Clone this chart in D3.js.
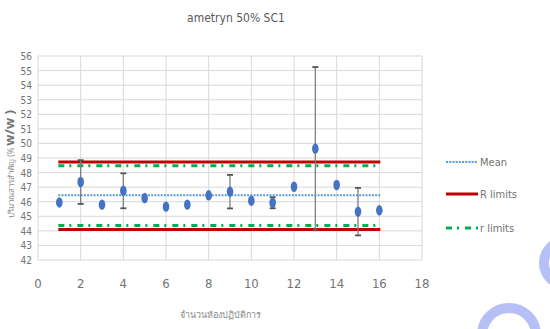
<!DOCTYPE html>
<html>
<head>
<meta charset="utf-8">
<script src="https://cdn.jsdelivr.net/npm/d3@7"></script>
<style>
  body { margin: 0; background: #fff; }
  text { font-family: "Liberation Sans Narrow", "DejaVu Sans Condensed", sans-serif; font-stretch: condensed; fill: #737373; }
</style>
</head>
<body>
<div id="chart"></div>
<script>
// Chart size and plot area
const W = 550, H = 329;
const margin = { top: 56, right: 128, bottom: 69, left: 38 };

// Data
const labs = [1, 2, 3, 4, 5, 6, 7, 8, 9, 10, 11, 12, 13, 14, 15, 16];
const values = [45.95, 47.35, 45.8, 46.75, 46.25, 45.66, 45.8, 46.44, 46.69, 46.07, 45.93, 47.03, 49.64, 47.15, 45.32, 45.41];
const errors = [0, 1.5, 0, 1.2, 0, 0, 0, 0, 1.15, 0, 0.38, 0, 5.6, 0, 1.63, 0];
const meanValue = 46.45;
const R_limits = [44.1, 48.72];
const r_limits = [44.36, 48.47];
const xTicks = [0, 2, 4, 6, 8, 10, 12, 14, 16, 18];
const yTicks = [42, 43, 44, 45, 46, 47, 48, 49, 50, 51, 52, 53, 54, 55, 56];

const svg = d3.select("#chart").append("svg")
    .attr("width", W)
    .attr("height", H);

const x = d3.scaleLinear().domain([0, 18]).range([margin.left, W - margin.right]);
const y = d3.scaleLinear().domain([42, 56]).range([H - margin.bottom, margin.top]);

// Grid lines
svg.append("g").selectAll("line.h")
    .data(yTicks)
    .join("line")
    .attr("x1", x(0)).attr("x2", x(18))
    .attr("y1", d => y(d)).attr("y2", d => y(d))
    .attr("stroke", "#d9d9d9").attr("stroke-width", 1);

svg.append("g").selectAll("line.v")
    .data(xTicks)
    .join("line")
    .attr("x1", d => x(d)).attr("x2", d => x(d))
    .attr("y1", y(42)).attr("y2", y(56))
    .attr("stroke", "#d9d9d9").attr("stroke-width", 1);

// Tick labels
svg.append("g").selectAll("text")
    .data(yTicks)
    .join("text")
    .attr("x", x(0) - 6)
    .attr("y", d => y(d) + 4)
    .attr("text-anchor", "end")
    .style("font-size", "10px")
    .text(d => d);

svg.append("g").selectAll("text")
    .data(xTicks)
    .join("text")
    .attr("x", d => x(d))
    .attr("y", 288)
    .attr("text-anchor", "middle")
    .style("font-size", "13px")
    .text(d => d);

// Title
svg.append("text")
    .attr("x", 236).attr("y", 22)
    .attr("text-anchor", "middle")
    .style("font-size", "12px")
    .style("fill", "#595959")
    .text("ametryn 50% SC1");

// Axis titles
svg.append("text")
    .attr("x", 220).attr("y", 318)
    .attr("text-anchor", "middle")
    .style("font-size", "9px")
    .style("font-family", "Noto Sans, sans-serif")
    .style("fill", "#8a8a8a")
    .text("จำนวนห้องปฏิบัติการ");

const yTitle = svg.append("text")
    .attr("transform", "translate(14,164) rotate(-90)")
    .attr("text-anchor", "middle")
    .style("font-family", "Noto Sans, sans-serif");
yTitle.append("tspan").style("font-size", "8px").style("fill", "#8a8a8a").text("ปริมาณสารสำคัญ (% ");
yTitle.append("tspan").style("font-size", "13px").style("font-weight", "bold").text("w/w )");

// Limit lines span the laboratories
const x0 = x(labs[0]) - 1, x1 = x(labs[labs.length - 1]) + 1;

svg.append("line")
    .attr("x1", x0).attr("x2", x1)
    .attr("y1", y(meanValue)).attr("y2", y(meanValue))
    .attr("stroke", "#5b9bd5").attr("stroke-width", 2)
    .attr("stroke-dasharray", "2,1.2");

svg.selectAll("line.R")
    .data(R_limits)
    .join("line")
    .attr("x1", x0).attr("x2", x1)
    .attr("y1", d => y(d)).attr("y2", d => y(d))
    .attr("stroke", "#c00000").attr("stroke-width", 3);

svg.selectAll("line.r")
    .data(r_limits)
    .join("line")
    .attr("x1", x0).attr("x2", x1 - 5)
    .attr("y1", d => y(d)).attr("y2", d => y(d))
    .attr("stroke", "#00b050").attr("stroke-width", 3)
    .attr("stroke-dasharray", "6,5,2,6");

// Error bars
const pts = labs.map((d, i) => ({ x: d, v: values[i], e: errors[i] }));
const eb = svg.append("g").selectAll("g")
    .data(pts.filter(d => d.e > 0))
    .join("g");
eb.append("line")
    .attr("x1", d => x(d.x)).attr("x2", d => x(d.x))
    .attr("y1", d => y(d.v + d.e)).attr("y2", d => y(d.v - d.e))
    .attr("stroke", "#7f7f7f").attr("stroke-width", 1.3);
eb.append("line")
    .attr("x1", d => x(d.x) - 3).attr("x2", d => x(d.x) + 3)
    .attr("y1", d => y(d.v + d.e)).attr("y2", d => y(d.v + d.e))
    .attr("stroke", "#555").attr("stroke-width", 1.8);
eb.append("line")
    .attr("x1", d => x(d.x) - 3).attr("x2", d => x(d.x) + 3)
    .attr("y1", d => y(d.v - d.e)).attr("y2", d => y(d.v - d.e))
    .attr("stroke", "#555").attr("stroke-width", 1.8);

// Points
svg.append("g").selectAll("ellipse")
    .data(pts)
    .join("ellipse")
    .attr("cx", d => x(d.x))
    .attr("cy", d => y(d.v))
    .attr("rx", 3.3).attr("ry", 5.2)
    .attr("fill", "#4472c4");

// Legend
const legend = [
    { name: "Mean", color: "#5b9bd5", width: 2, dash: "2,1.2", y: 162 },
    { name: "R limits", color: "#c00000", width: 3, dash: null, y: 194 },
    { name: "r limits", color: "#00b050", width: 3, dash: "6,5,2,6", y: 228 }
];
const lg = svg.append("g").selectAll("g")
    .data(legend)
    .join("g");
lg.append("line")
    .attr("x1", 446).attr("x2", 478)
    .attr("y1", d => d.y).attr("y2", d => d.y)
    .attr("stroke", d => d.color)
    .attr("stroke-width", d => d.width)
    .attr("stroke-dasharray", d => d.dash);
lg.append("text")
    .attr("x", 480).attr("y", d => d.y + 4)
    .style("font-size", "11px")
    .text(d => d.name);

// Page decoration at the lower right
svg.append("path")
    .attr("d", "M 482 335 A 27 27 0 0 1 536 335")
    .attr("fill", "none").attr("stroke", "#b6c0f6").attr("stroke-width", 10);
svg.append("circle")
    .attr("cx", 566).attr("cy", 263).attr("r", 22)
    .attr("fill", "none").attr("stroke", "#b6c0f6").attr("stroke-width", 10);
</script>
</body>
</html>
